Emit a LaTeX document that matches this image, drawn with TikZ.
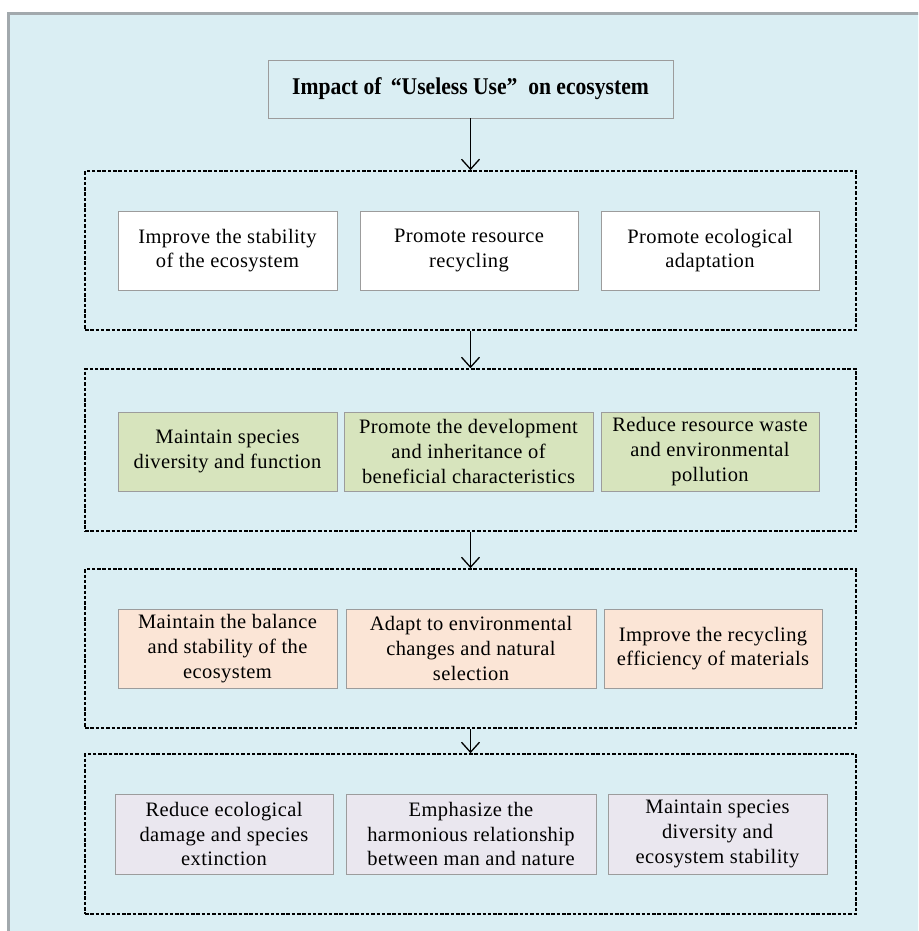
\documentclass[tikz,border=0pt]{standalone}
\usepackage{fontspec}
\setmainfont{Liberation Serif}[LetterSpace=2]
\newfontfamily\titlefont[FakeStretch=0.9]{Liberation Serif}
\usepackage{xcolor}
\usepackage{tikz}
\usetikzlibrary{positioning,arrows.meta}

\definecolor{panelblue}{HTML}{DAEEF3}
\definecolor{panelgray}{HTML}{A2A9AD}
\definecolor{boxgray}{HTML}{9C9C9C}
\definecolor{leafgreen}{HTML}{D7E4BD}
\definecolor{peach}{HTML}{FBE5D6}
\definecolor{lilac}{HTML}{EAE7EF}

\begin{document}
\begin{tikzpicture}[x=1pt, y=-1pt,
    item/.style={rectangle, draw=boxgray, line width=0.8pt, minimum height=79pt, inner sep=1pt, align=center, font=\fontsize{20.5}{24.7}\selectfont},
    group/.style={rectangle, draw=black, line width=1.6pt, dash pattern=on 3.5pt off 1.8pt, minimum width=771pt},
    flow/.style={-{Straight Barb[length=10pt, width=18pt]}, line width=1.3pt},
]

% Page and panel
\useasboundingbox (0,0) rectangle (918,931);
\clip (0,0) rectangle (918,931);
\fill[white] (0,0) rectangle (918,931);
\draw[draw=panelgray, line width=3pt, fill=panelblue] (8,14) rectangle (960,980);

% Title
\node[rectangle, draw=boxgray, line width=0.8pt, fill=panelblue, minimum width=405pt, minimum height=58pt, font=\titlefont\bfseries\fontsize{24}{28}\selectfont] (title) at (470.5,89) {Impact of \,“Useless Use”\ \ on ecosystem};

% Dashed groups
\node[group, minimum height=159pt] (g1) at (470.5,250.5) {};
\node[group, minimum height=162pt] (g2) at (470.5,450) {};
\node[group, minimum height=159pt] (g3) at (470.5,648.5) {};
\node[group, minimum height=160pt] (g4) at (470.5,834) {};

% Row 1
\node[item, fill=white, minimum width=219pt] (stab) at (227.5,250.5) {Improve the stability\\of the ecosystem};
\node[item, fill=white, minimum width=218pt] (recyc) at (469,250.5) {Promote resource\\recycling};
\node[item, fill=white, minimum width=218pt] (adapt) at (710,250.5) {Promote ecological\\adaptation};

% Row 2
\node[item, fill=leafgreen, minimum width=219pt] (divers) at (227.5,451.5) {Maintain species\\diversity and function};
\node[item, fill=leafgreen, minimum width=249pt] (inherit) at (468.5,451.5) {Promote the development\\and inheritance of\\beneficial characteristics};
\node[item, fill=leafgreen, minimum width=218pt] (waste) at (710,451.5) {Reduce resource waste\\and environmental\\pollution};

% Row 3
\node[item, fill=peach, minimum width=219pt] (balance) at (227.5,648.5) {Maintain the balance\\and stability of the\\ecosystem};
\node[item, fill=peach, minimum width=250pt] (select) at (471,648.5) {Adapt to environmental\\changes and natural\\selection};
\node[item, fill=peach, minimum width=218pt] (effic) at (713,648.5) {Improve the recycling\\efficiency of materials};

% Row 4
\node[item, fill=lilac, minimum width=218pt, minimum height=80pt] (damage) at (224,834) {Reduce ecological\\damage and species\\extinction};
\node[item, fill=lilac, minimum width=250pt, minimum height=80pt] (harmony) at (471,834) {Emphasize the\\harmonious relationship\\between man and nature};
\node[item, fill=lilac, minimum width=219pt, minimum height=80pt] (ecostab) at (717.5,834) {Maintain species\\diversity and\\ecosystem stability};

% Arrows
\draw[flow] (title) -- (g1);
\draw[flow] (g1) -- (g2);
\draw[flow] (g2) -- (g3);
\draw[flow] (g3) -- (g4);

\end{tikzpicture}
\end{document}
